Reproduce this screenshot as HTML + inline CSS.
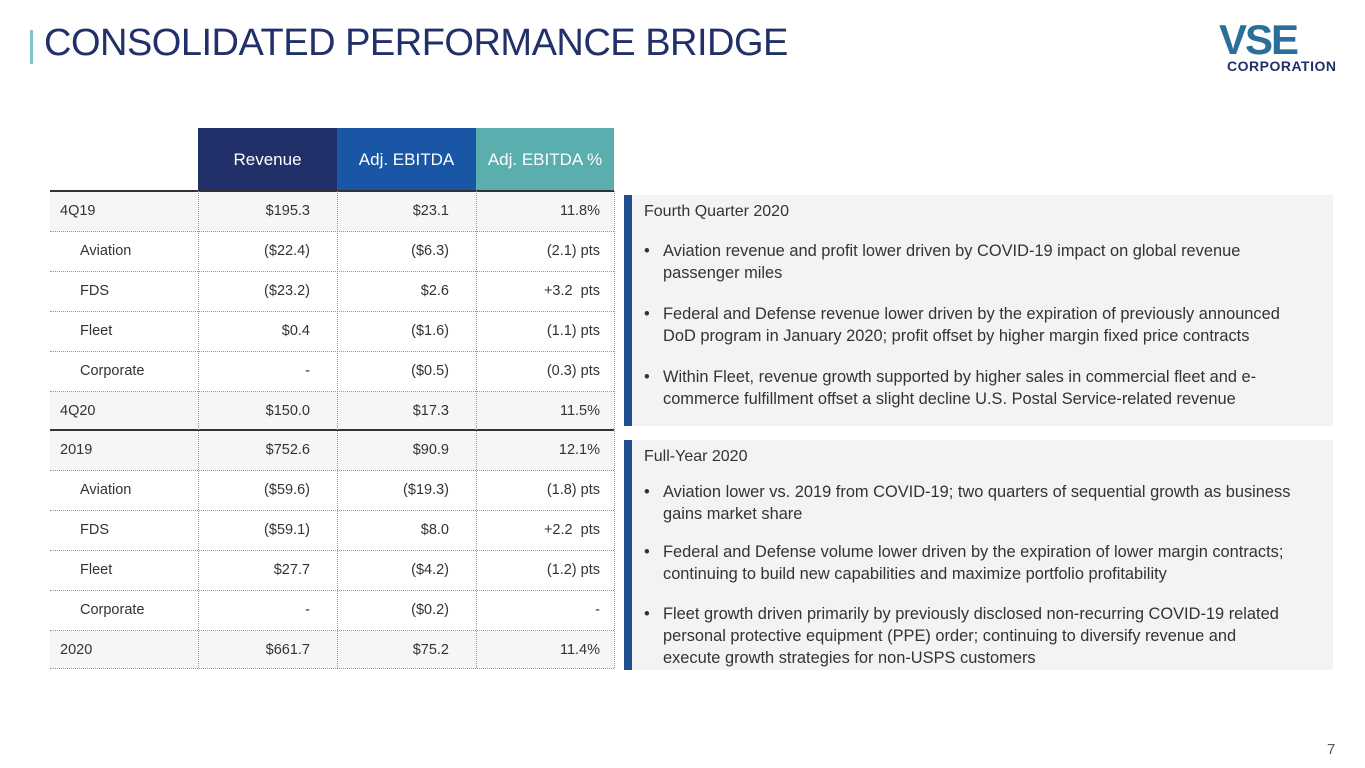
<!DOCTYPE html><html><head><style>
body{margin:0;width:1365px;height:768px;background:#fff;position:relative;overflow:hidden;font-family:"Liberation Sans",sans-serif}
.a{position:absolute}
.hd{position:absolute;top:128px;height:63px;color:#fff;font-size:17px;display:flex;align-items:center;justify-content:center}
.row{position:absolute;left:50px;width:564px;height:40px;border-bottom:1px dotted #999}
.row span{position:absolute;top:11px;font-size:14.5px;color:#333}
.vl{position:absolute;top:191px;height:477px;border-left:1px dotted #999}
.box{position:absolute;left:624px;width:701px;background:#f3f3f3;border-left:8px solid #1f4f8f}
.box .h{position:absolute;left:12px;top:8px;font-size:16px;color:#333}
.box p{position:absolute;left:12px;margin:0;font-size:16.4px;line-height:22px;color:#333;white-space:nowrap}
.box p b{font-weight:normal;position:absolute;left:0}
.box p i{font-style:normal;display:block;padding-left:19px}
</style></head><body>
<div class="a" style="left:30px;top:30px;width:3px;height:34px;background:#7cc6c6"></div>
<div class="a" style="left:44px;top:22px;font-size:38px;color:#22306a;letter-spacing:-0.5px">CONSOLIDATED PERFORMANCE BRIDGE</div>
<div class="a" style="left:1219px;top:20px;font-size:42px;font-weight:bold;letter-spacing:-2px;color:#2a6f9a;line-height:40px">VSE</div>
<div class="a" style="left:1227px;top:58px;font-size:14px;color:#22306a;font-weight:bold;letter-spacing:0.5px">CORPORATION</div>

<div class="hd" style="left:198px;width:139px;background:#22306a">Revenue</div>
<div class="hd" style="left:337px;width:139px;background:#1a56a6">Adj. EBITDA</div>
<div class="hd" style="left:476px;width:138px;background:#5aaeae">Adj. EBITDA %</div>
<div class="a" style="left:50px;top:190px;width:564px;height:2px;background:#333"></div>

<div class="row" style="top:192px;height:39px;background:#f6f6f6"><span style="left:10px">4Q19</span><span style="right:304px">$195.3</span><span style="right:165px">$23.1</span><span style="right:14px">11.8%</span></div>
<div class="row" style="top:232px;height:39px"><span style="left:30px">Aviation</span><span style="right:304px">($22.4)</span><span style="right:165px">($6.3)</span><span style="right:14px">(2.1) pts</span></div>
<div class="row" style="top:272px;height:39px"><span style="left:30px">FDS</span><span style="right:304px">($23.2)</span><span style="right:165px">$2.6</span><span style="right:14px">+3.2&nbsp; pts</span></div>
<div class="row" style="top:312px;height:39px"><span style="left:30px">Fleet</span><span style="right:304px">$0.4</span><span style="right:165px">($1.6)</span><span style="right:14px">(1.1) pts</span></div>
<div class="row" style="top:352px;height:39px"><span style="left:30px">Corporate</span><span style="right:304px">-</span><span style="right:165px">($0.5)</span><span style="right:14px">(0.3) pts</span></div>
<div class="row" style="top:392px;height:37px;background:#f6f6f6;border-bottom:2px solid #333"><span style="left:10px">4Q20</span><span style="right:304px">$150.0</span><span style="right:165px">$17.3</span><span style="right:14px">11.5%</span></div>
<div class="row" style="top:431px;height:39px;background:#f6f6f6"><span style="left:10px">2019</span><span style="right:304px">$752.6</span><span style="right:165px">$90.9</span><span style="right:14px">12.1%</span></div>
<div class="row" style="top:471px;height:39px"><span style="left:30px">Aviation</span><span style="right:304px">($59.6)</span><span style="right:165px">($19.3)</span><span style="right:14px">(1.8) pts</span></div>
<div class="row" style="top:511px;height:39px"><span style="left:30px">FDS</span><span style="right:304px">($59.1)</span><span style="right:165px">$8.0</span><span style="right:14px">+2.2&nbsp; pts</span></div>
<div class="row" style="top:551px;height:39px"><span style="left:30px">Fleet</span><span style="right:304px">$27.7</span><span style="right:165px">($4.2)</span><span style="right:14px">(1.2) pts</span></div>
<div class="row" style="top:591px;height:39px"><span style="left:30px">Corporate</span><span style="right:304px">-</span><span style="right:165px">($0.2)</span><span style="right:14px">-</span></div>
<div class="row" style="top:631px;height:37px;background:#f6f6f6"><span style="left:10px">2020</span><span style="right:304px">$661.7</span><span style="right:165px">$75.2</span><span style="right:14px">11.4%</span></div>
<div class="vl" style="left:198px"></div><div class="vl" style="left:337px"></div><div class="vl" style="left:476px"></div><div class="vl" style="left:614px"></div>

<div class="box" style="top:195px;height:231px">
<div class="h">Fourth Quarter 2020</div>
<p style="top:45px"><b>•</b><i>Aviation revenue and profit lower driven by COVID-19 impact on global revenue<br>passenger miles</i></p>
<p style="top:108px"><b>•</b><i>Federal and Defense revenue lower driven by the expiration of previously announced<br>DoD program in January 2020; profit offset by higher margin fixed price contracts</i></p>
<p style="top:171px"><b>•</b><i>Within Fleet, revenue growth supported by higher sales in commercial fleet and e-<br>commerce fulfillment offset a slight decline U.S. Postal Service-related revenue</i></p>
</div>
<div class="box" style="top:440px;height:230px">
<div class="h">Full-Year 2020</div>
<p style="top:41px"><b>•</b><i>Aviation lower vs. 2019 from COVID-19; two quarters of sequential growth as business<br>gains market share</i></p>
<p style="top:101px"><b>•</b><i>Federal and Defense volume lower driven by the expiration of lower margin contracts;<br>continuing to build new capabilities and maximize portfolio profitability</i></p>
<p style="top:163px"><b>•</b><i>Fleet growth driven primarily by previously disclosed non-recurring COVID-19 related<br>personal protective equipment (PPE) order; continuing to diversify revenue and<br>execute growth strategies for non-USPS customers</i></p>
</div>
<div class="a" style="left:1327px;top:741px;font-size:15px;color:#555">7</div>
</body></html>
